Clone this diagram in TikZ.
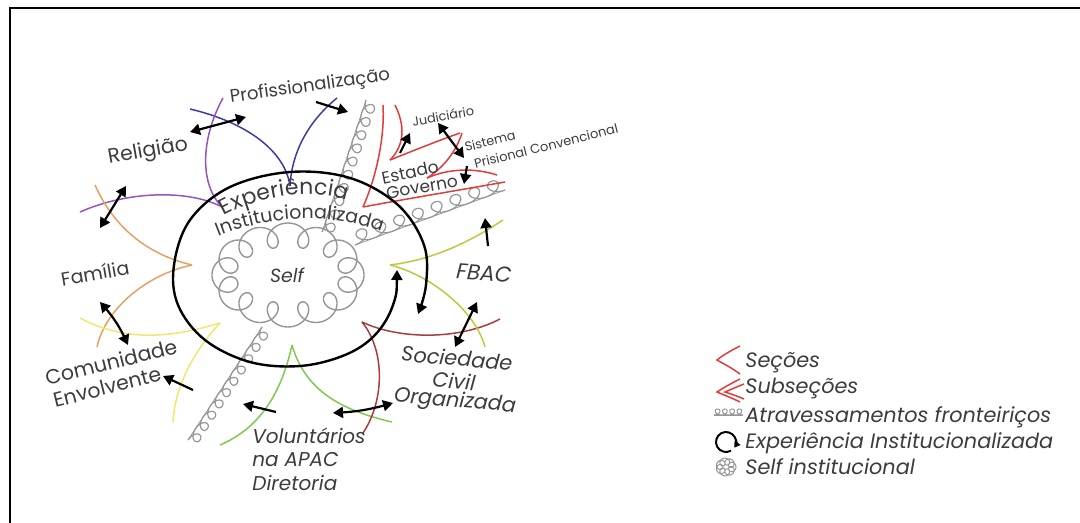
\documentclass[tikz,border=0pt]{standalone}
\usepackage{fontspec}
\setmainfont{Poppins}
\usetikzlibrary{arrows.meta,decorations.text}
\definecolor{txt}{RGB}{60,60,60}
\definecolor{cblue}{RGB}{60,60,165}
\definecolor{cpurple}{RGB}{150,85,190}
\definecolor{corange}{RGB}{230,160,100}
\definecolor{cyellow}{RGB}{238,232,110}
\definecolor{cgreen}{RGB}{130,200,80}
\definecolor{cmaroon}{RGB}{170,60,60}
\definecolor{colive}{RGB}{190,200,60}
\definecolor{cred}{RGB}{225,60,60}
\definecolor{cgray}{RGB}{150,150,150}
\tikzset{blk/.tip={Triangle[length=5pt,width=5.5pt]}}
\begin{document}
\begin{tikzpicture}[x=0.5pt,y=-0.5pt,
  lbl/.style={text=txt, inner sep=0pt, font=\fontsize{#1}{11}\selectfont},
  lbli/.style={text=txt, inner sep=0pt, font=\fontsize{#1}{11}\selectfont\itshape},
  sec/.style={line width=0.75pt},
  dbl/.style={line width=1.1pt, blk-blk},
  one/.style={line width=1.1pt, -blk},
  coilline/.style={draw=cgray, line width=0.6pt},
  thin/.style={draw=cgray, line width=0.4pt},
]
\useasboundingbox (0,0) rectangle (1080,523);
% frame
\draw[line width=1pt] (9.5,523) -- (9.5,8) -- (1080,8);

% ---- self cloud
\draw[coilline, line width=0.7pt] plot[domain=0:360, samples=500, smooth] ({288+64*cos(\x)+12*cos(13*\x)},{275+40*sin(\x)+12*sin(13*\x)});

% ---- boundary crossings (loopy lines)
\coordinate (c1a) at (366,100); \coordinate (c1b) at (322,232);
\coordinate (c2a) at (355,245); \coordinate (c2b) at (505,190);
\coordinate (c3a) at (262,327); \coordinate (c3b) at (188,440);
\draw[thin] (c1a) -- (c1b);
\draw[thin] (c2a) -- (c2b);
\draw[thin] (c3a) -- (c3b);
\begin{scope}[shift={(c1a)}, rotate=-108.4]
  \draw[coilline] plot[domain=0:3600, samples=360, smooth] ({\x/3600*139+7.5*sin(\x)},{5.5*cos(\x)-5.5});
\end{scope}
\begin{scope}[shift={(c2a)}, rotate=20.1]
  \draw[coilline] plot[domain=0:2880, samples=300, smooth] ({\x/2880*160+10*sin(\x)},{6.5*cos(\x)-6.5});
\end{scope}
\begin{scope}[shift={(c3a)}, rotate=-123.2]
  \draw[coilline] plot[domain=0:3600, samples=360, smooth] ({\x/3600*135+7*sin(\x)},{5*cos(\x)-5});
\end{scope}

% ---- sections
\draw[sec, cblue] (190,109) .. controls (245,122) and (285,150) .. (290,186);
\draw[sec, cblue] (337,98) .. controls (310,120) and (292,150) .. (290,186);
\draw[sec, cpurple] (223,98) .. controls (200,140) and (200,185) .. (222,207);
\draw[sec, cpurple] (80,212) .. controls (130,190) and (190,190) .. (222,207);
\draw[sec, corange] (95,185) .. controls (115,230) and (150,255) .. (192,265);
\draw[sec, corange] (192,265) .. controls (145,275) and (105,310) .. (97,347);
\draw[sec, cyellow] (80,318) .. controls (130,345) and (180,335) .. (220,323);
\draw[sec, cyellow] (220,323) .. controls (195,350) and (175,385) .. (173,422);
\draw[sec, cgreen] (292,345) .. controls (280,400) and (255,430) .. (220,445);
\draw[sec, cgreen] (292,345) .. controls (305,390) and (340,410) .. (392,422);
\draw[sec, cmaroon] (362,322) .. controls (400,340) and (460,340) .. (500,319);
\draw[sec, cmaroon] (362,322) .. controls (385,350) and (385,400) .. (363,433);
\draw[sec, colive] (503,220) .. controls (465,245) and (430,260) .. (390,265);
\draw[sec, colive] (390,265) .. controls (430,275) and (475,310) .. (485,347);
\draw[sec, cred] (383,105) .. controls (385,140) and (375,180) .. (363,207);
\draw[sec, cred] (363,207) .. controls (400,200) and (460,190) .. (505,182);
\draw[sec, cred] (395,105) .. controls (405,125) and (405,145) .. (390,160);
\draw[sec, cred] (390,160) .. controls (415,150) and (440,140) .. (460,133);
\draw[sec, cred] (462,133) .. controls (455,155) and (440,170) .. (427,178);
\draw[sec, cred] (427,178) .. controls (450,168) and (475,168) .. (497,175);

% ---- experience ring
\draw[line width=1.2pt, blk-blk] plot[smooth, tension=0.6] coordinates {(397,270) (393,305) (375,335) (345,355) (300,366) (250,362) (205,340) (178,305) (174,265) (190,220) (230,187) (290,172) (350,178) (398,205) (424,245) (426,285) (418,314)};

% ---- labels
\node[lbl=9, rotate=8] (prof) at (310,87) {Profissionalização};
\node[lbl=10.2, rotate=10] (rel) at (148,152) {Religião};
\node[lbl=9.5, rotate=10] (fam) at (95,273) {Família};
\node[lbl=10.2, rotate=14] (com) at (111,362) {Comunidade};
\node[lbl=10.2, rotate=14] (env) at (107,387) {Envolvente};
\node[lbli=10, anchor=west] (vol1) at (252,436) {Voluntários};
\node[lbli=10, anchor=west] (vol2) at (252,460) {na APAC};
\node[lbli=10, anchor=west] (vol3) at (252,483) {Diretoria};
\node[lbli=10.4, rotate=-5] (soc1) at (457,358) {Sociedade};
\node[lbli=10.4, rotate=-5] (soc2) at (454,381) {Civil};
\node[lbli=10.4, rotate=-5] (soc3) at (455,402) {Organizada};
\node[lbli=10.8, rotate=-4] (fbac) at (484,273) {FBAC};
\node[lbl=8.5, rotate=12] (est) at (410,172) {Estado};
\node[lbl=8.5, rotate=10] (gov) at (422,187) {Governo};
\node[lbl=6.4, rotate=10] (jud) at (443,116) {Judiciário};
\node[lbl=6.4, rotate=14] (sis) at (490,141) {Sistema};
\node[lbl=6.5, rotate=14] (pri) at (546,146) {Prisional Convencional};
\node[lbli=9.5] (self) at (287,275) {Self};
\path[decorate, decoration={text along path, text align=fit to path, text={|\fontsize{11}{12}\selectfont\color{txt}|Experiência}}] (224,216) .. controls (260,196) and (310,188) .. (347,200);
\path[decorate, decoration={text along path, text align=center, text={|\fontsize{9.5}{11}\selectfont\color{txt}|Institucionalizada}}] (210,240) .. controls (255,220) and (320,207) .. (390,235);

% ---- arrows
\coordinate (a1s) at (190,132); \coordinate (a1e) at (246,117);
\coordinate (a2s) at (316,102); \coordinate (a2e) at (348,112);
\coordinate (a3s) at (126,186); \coordinate (a3e) at (100,228);
\coordinate (a4s) at (100,302); \coordinate (a4e) at (128,345);
\coordinate (a5s) at (193,390); \coordinate (a5e) at (163,376);
\coordinate (a6s) at (276,412); \coordinate (a6e) at (243,404);
\coordinate (a7s) at (333,413); \coordinate (a7e) at (393,403);
\coordinate (a8s) at (455,347); \coordinate (a8e) at (477,302);
\coordinate (a9s) at (488,246); \coordinate (a9e) at (485,218);
\coordinate (a10s) at (400,153); \coordinate (a10e) at (410,133);
\coordinate (a11s) at (438,123); \coordinate (a11e) at (464,158);
\coordinate (a12s) at (467,166); \coordinate (a12e) at (464,184);
\draw[dbl] (a1s) -- (a1e);
\draw[one] (a2s) -- (a2e);
\draw[dbl] (a3s) -- (a3e);
\draw[dbl] (a4s) to[bend left=8] (a4e);
\draw[one] (a5s) -- (a5e);
\draw[one] (a6s) -- (a6e);
\draw[dbl] (a7s) to[bend right=6] (a7e);
\draw[dbl] (a8s) -- (a8e);
\draw[one] (a9s) -- (a9e);
\draw[one] (a10s) -- (a10e);
\draw[dbl] (a11s) -- (a11e);
\draw[one] (a12s) -- (a12e);

% ---- legend
\draw[sec, cred] (740,346) .. controls (728,352) and (722,356) .. (717,360) .. controls (724,364) and (732,368) .. (740,374);
\draw[sec, cred] (740,379) .. controls (730,384) and (723,388) .. (717,392) .. controls (724,395) and (732,398) .. (740,402);
\draw[sec, cred] (744,384) .. controls (736,387) and (730,390) .. (725,392) .. controls (731,394) and (737,396) .. (744,399);
\coordinate (lc1) at (714,415); \coordinate (lc2) at (743,415);
\draw[draw=cgray, line width=0.4pt] (lc1) -- (lc2);
\begin{scope}[shift={(lc1)}]
  \draw[draw=cgray, line width=0.5pt] plot[domain=0:1440, samples=140, smooth] ({\x/1440*29+4*sin(\x)},{3*cos(\x)-3});
\end{scope}
\draw[line width=1pt, -{Triangle[length=3pt,width=3.5pt]}] (726,442) ++(60:10) arc[start angle=60, end angle=395, radius=10];
\draw[draw=cgray, line width=0.5pt] plot[domain=0:360, samples=200, smooth] ({726+6.5*cos(\x)+3.5*cos(8*\x)},{467+5.5*sin(\x)+3.5*sin(8*\x)});
\node[lbli=10.4, anchor=base west] (lg1) at (745,367) {Seções};
\node[lbli=10.4, anchor=base west] (lg2) at (745,393) {Subseções};
\node[lbli=10.4, anchor=base west] (lg3) at (745,422) {Atravessamentos fronteiriços};
\node[lbli=10.4, anchor=base west] (lg4) at (745,448) {Experiência Institucionalizada};
\node[lbli=10.4, anchor=base west] (lg5) at (745,474) {Self institucional};
\end{tikzpicture}
\end{document}
